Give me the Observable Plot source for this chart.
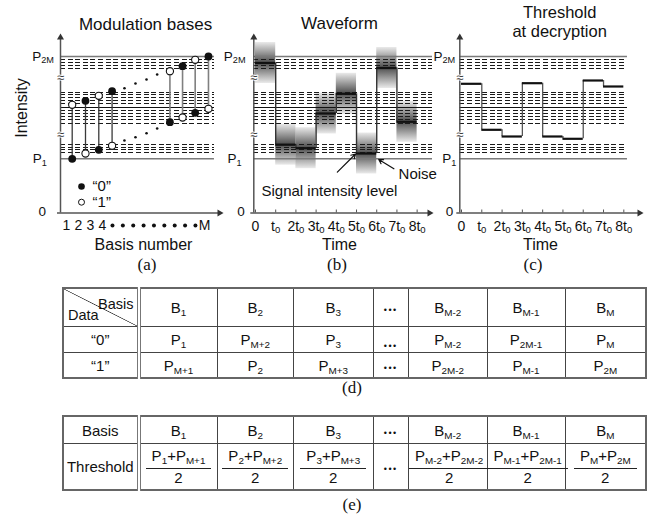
<!DOCTYPE html>
<html>
<head>
<meta charset="utf-8">
<script src="https://cdn.jsdelivr.net/npm/d3@7"></script>
<script src="https://cdn.jsdelivr.net/npm/@observablehq/plot@0.6"></script>
<style>
  body { margin: 0; background: #fff; color: #111; font-family: "Liberation Sans", Arial, Helvetica, sans-serif; }
  #fig { position: relative; width: 658px; height: 523px; overflow: hidden; background: #fff; }
  .panel { position: absolute; top: 0; }
  .panel svg { overflow: visible; }
  .cap { position: absolute; font-family: "Liberation Serif", "Times New Roman", serif; font-size: 17px; transform: translate(-50%, -50%); }
  table.grid { position: absolute; left: 62px; width: 583px; border-collapse: collapse; table-layout: fixed; border: 2px solid #666; font-size: 15px; }
  table.grid td { border: 1px solid #444; text-align: center; padding: 0; white-space: nowrap; }
  table.grid td.lead { border-right: 4px double #777; }
  sub { font-size: 0.66em; vertical-align: -0.3em; line-height: 0; }
  .dots { font-size: 9px; letter-spacing: 1.5px; }
  td.low { vertical-align: bottom; padding-bottom: 2px; }
  td.diag { position: relative; background: linear-gradient(to top right, transparent calc(50% - 0.7px), #333 50%, transparent calc(50% + 0.7px)); }
  td.diag .tr { position: absolute; right: 3px; top: 7px; font-size: 14.5px; }
  td.diag .bl { position: absolute; left: 4px; bottom: 3px; font-size: 14.5px; }
  .frac { display: inline-flex; flex-direction: column; vertical-align: middle; margin-top: -1px; }
  .frac .num { padding: 0 6px 2px; border-bottom: 1px solid #222; line-height: 20px; }
  .frac .den { line-height: 18px; }
</style>
</head>
<body>
<svg width="0" height="0" style="position:absolute">
  <defs>
    <linearGradient id="noise" x1="0" y1="0" x2="0" y2="1">
      <stop offset="0" stop-color="#2e2e2e" stop-opacity="0.1"/>
      <stop offset="0.5" stop-color="#2e2e2e" stop-opacity="0.85"/>
      <stop offset="1" stop-color="#2e2e2e" stop-opacity="0.1"/>
    </linearGradient>
  </defs>
</svg>
<div id="fig">
  <div class="panel" id="pa" style="left:0px"></div>
  <div class="panel" id="pb" style="left:218px"></div>
  <div class="panel" id="pc" style="left:430px"></div>
  <div class="cap" style="left:147px;top:265px">(a)</div>
  <div class="cap" style="left:337px;top:265px">(b)</div>
  <div class="cap" style="left:533px;top:265px">(c)</div>
  <table class="grid" id="tblD" style="top:287px"></table>
  <div class="cap" style="left:352px;top:388px">(d)</div>
  <table class="grid" id="tblE" style="top:415px"></table>
  <div class="cap" style="left:352px;top:505px">(e)</div>
</div>
<script>
// ---- Intensity levels on the broken intensity axis (axis units, 0 at origin) ----
const levelP1 = 54.2;
const levelP2M = 156.5;
const midLevel = 105.8;
const dashedLevels = [153.2, 150.5, 147.2, 144.2,
                      120.8, 118.2, 115.2, 112.2, 109.2,
                      102.5, 99.5, 96.2, 93.2, 90.0,
                      68.3, 65.8, 63.5, 60.8];
const breakLevels = [134.8, 78.5];

// ---- (a) Modulation bases ----
const bases = ["1", "2", "3", "4", "M-3", "M-2", "M-1", "M"];
const basisPos = [1, 2, 3, 4, 8.35, 9.3, 10.25, 11.25];
const dataZero = [54.2, 112.2, 63.2, 121.8, 90.8, 146.8, 100.2, 156.5]; // bit "0"
const dataOne  = [108.2, 59.5, 117.2, 67.2, 141.8, 95.5, 153.2, 104.2]; // bit "1"
const trendPos = [4.93, 5.76, 6.59, 7.39];
const trendUpper = [124.8, 129.5, 133.5, 138.5];
const trendLower = [72.5, 75.8, 79.8, 84.5];
const basisTickLabels = ["1", "2", "3", "4", "M"];
const basisTickPos = [0.57, 1.47, 2.37, 3.28, 10.95];
const basisEllipsisPos = [4.03, 4.81, 5.59, 6.37, 7.15, 7.93, 8.71, 9.49, 10.27];
const legendBits = ["\u201C0\u201D", "\u201C1\u201D"];
const legendLevels = [26.5, 10.8];

// ---- (b) Waveform and (c) threshold, one value per time slot ----
const slots = [0, 1, 2, 3, 4, 5, 6, 7];
const waveLevel = [150.0, 68.3, 64.8, 99.5, 119.2, 59.5, 145.0, 91.2];
const noiseHalfWidth = 20.5;
const thresholdLevel = [129.2, 83.2, 76.5, 129.8, 76.5, 74.2, 132.5, 126.5];
const timeTicks = [0, 1, 2, 3, 4, 5, 6, 7, 8];
const timeLabels = ["0", "t_0", "2t_0", "3t_0", "4t_0", "5t_0", "6t_0", "7t_0", "8t_0"];

// ---- (d), (e) tables ----
const basisHeaders = ["B_1", "B_2", "B_3", "…", "B_M-2", "B_M-1", "B_M"];
const rowZero = ["P_1", "P_M+2", "P_3", "…", "P_M-2", "P_2M-1", "P_M"];
const rowOne = ["P_M+1", "P_2", "P_M+3", "…", "P_2M-2", "P_M-1", "P_2M"];
const thresholdTerms = [["P_1", "P_M+1"], ["P_2", "P_M+2"], ["P_3", "P_M+3"], null,
                        ["P_M-2", "P_2M-2"], ["P_M-1", "P_2M-1"], ["P_M", "P_2M"]];

const FONT = "'Liberation Sans', Arial, Helvetica, sans-serif";
const YTOP = 179.5;
const style = {fontFamily: FONT, fontSize: "14px", background: "transparent", overflow: "visible", color: "#111"};

function levelGrid(x1, x2) {
  return [
    Plot.ruleY(dashedLevels, {x1, x2, stroke: "#1a1a1a", strokeWidth: 1, strokeDasharray: "5,2.6", shapeRendering: "crispEdges"}),
    Plot.ruleY([midLevel], {x1, x2, stroke: "#111", strokeWidth: 1, shapeRendering: "crispEdges"}),
    Plot.ruleY([levelP1, levelP2M], {x1, x2, stroke: "#7a7a7a", strokeWidth: 1.6})
  ];
}

function frame(x0, x1, zeroDx) {
  return [
    Plot.ruleX([x0], {y1: 0, y2: YTOP - 4, stroke: "#555", strokeWidth: 1.5}),
    Plot.ruleY([0], {x1: x0, x2: x1, stroke: "#555", strokeWidth: 1.5, dx: -3}),
    Plot.dot([x0], {x: d => d, y: YTOP, symbol: "triangle", r: 2.6, fill: "#333", stroke: "none", dy: 4}),
    Plot.dot([x1], {x: d => d, y: 0, symbol: "triangle", r: 2.6, fill: "#333", stroke: "none", rotate: 90, dx: -4}),
    Plot.text(breakLevels, {x: x0, y: d => d, text: () => "\u2248", fontSize: 13, fill: "#333", stroke: "white", strokeWidth: 2}),
    Plot.text([{t: "P_2M", v: levelP2M}, {t: "P_1", v: levelP1}],
      {x: x0, y: "v", text: "t", textAnchor: "start", fontSize: 13.5}),
    Plot.text(["0"], {x: x0, y: 0, text: d => d, dx: zeroDx, dy: -1.5, fontSize: 13.5})
  ];
}

// shift the P-labels left of the intensity axis
function placeLabels(svg, offsets) {
  [...svg.querySelectorAll("text")]
    .filter(t => t.textContent === "P_2M" || t.textContent === "P_1")
    .forEach(t => {
      const off = t.textContent === "P_2M" ? offsets[0] : offsets[1];
      t.setAttribute("x", String(+t.getAttribute("x") + off));
    });
}

// "X_Y" text becomes X with subscript Y
function subscripts(svg) {
  const ns = "http://www.w3.org/2000/svg";
  svg.querySelectorAll("text").forEach(t => {
    if (t.children.length) return;
    const s = t.textContent;
    const k = s.indexOf("_");
    if (k < 0) return;
    t.textContent = "";
    const a = document.createElementNS(ns, "tspan");
    a.textContent = s.slice(0, k);
    const b = document.createElementNS(ns, "tspan");
    b.textContent = s.slice(k + 1);
    b.setAttribute("style", "font-size:68%");
    b.setAttribute("dy", "2.5");
    t.append(a, b);
  });
}

function timeAxis() {
  return [
    Plot.ruleX(timeTicks, {x: d => d, y1: 0, y2: 3, stroke: "#555", strokeWidth: 1}),
    Plot.text(timeTicks, {x: d => d, y: 0, text: (d, i) => timeLabels[i], dy: 13.5, fontSize: 14})
  ];
}

const title = (s, dx, dy, size, extra = {}) =>
  Plot.text([s], {frameAnchor: "top", lineAnchor: "middle", text: d => d, dx, dy, fontSize: size, ...extra});
const axisTitle = (s, dx) =>
  Plot.text([s], {frameAnchor: "bottom", lineAnchor: "middle", text: d => d, dx, dy: 31.5, fontSize: 16});

// ---------- (a) ----------
const xA = [0.12, 12.38];
const idx = bases.map((_, i) => i);
const panelA = Plot.plot({
  width: 225, height: 260, marginLeft: 60, marginRight: 2, marginTop: 33, marginBottom: 47.5,
  x: {domain: xA, axis: null}, y: {domain: [0, YTOP], axis: null}, style,
  marks: [
    ...levelGrid(xA[0], 11.7),
    Plot.ruleX(idx.filter(i => i < 4), {x: i => basisPos[i], y1: i => dataZero[i], y2: i => dataOne[i], stroke: "#3a3a3a", strokeWidth: 1.3}),
    Plot.ruleX(idx.filter(i => i >= 4), {x: i => basisPos[i], y1: i => dataZero[i], y2: i => dataOne[i], stroke: "#808080", strokeWidth: 1.6}),
    Plot.dot(trendPos, {x: d => d, y: (d, i) => trendUpper[i], r: 1.3, fill: "#111", stroke: "none"}),
    Plot.dot(trendPos, {x: d => d, y: (d, i) => trendLower[i], r: 1.3, fill: "#111", stroke: "none"}),
    Plot.dot(idx, {x: i => basisPos[i], y: i => dataOne[i], r: 3.6, fill: "white", stroke: "#111", strokeWidth: 1.1}),
    Plot.dot(idx, {x: i => basisPos[i], y: i => dataZero[i], r: 3.9, fill: "#111", stroke: "none"}),
    // legend
    Plot.dot([0], {x: 1.7, y: legendLevels[0], r: 3.3, fill: "#111", stroke: "none"}),
    Plot.dot([1], {x: 1.7, y: legendLevels[1], r: 3, fill: "white", stroke: "#111", strokeWidth: 1}),
    Plot.text(legendBits, {x: 2.53, y: (d, i) => legendLevels[i], text: d => d, textAnchor: "start", fontSize: 15}),
    // basis axis labels
    Plot.text(basisTickLabels, {x: (d, i) => basisTickPos[i], y: 0, text: d => d, dy: 12.5, fontSize: 14}),
    Plot.dot(basisEllipsisPos, {x: d => d, y: 0, dy: 12.5, r: 2, fill: "#111", stroke: "none"}),
    ...frame(xA[0], xA[1], -18.3),
    title("Modulation bases", 3.5, -9.2, 17),
    axisTitle("Basis number", 1.5),
    // vertical axis title, left of the P labels
    Plot.text(["Intensity"], {x: -2.77, y: 105, text: d => d, rotate: -90, textAnchor: "middle", lineAnchor: "middle", fontSize: 16})
  ]
});
placeLabels(panelA, [-28.3, -27.7]);
subscripts(panelA);
document.getElementById("pa").append(panelA);

// ---------- (b) ----------
const xB = [-0.084, 8.81];
const panelB = Plot.plot({
  width: 216, height: 260, marginLeft: 35.3, marginRight: 1, marginTop: 33, marginBottom: 47.5,
  x: {domain: xB, axis: null}, y: {domain: [0, YTOP], axis: null}, style,
  marks: [
    Plot.rect(slots, {x1: i => i, x2: i => i + 1, y1: i => waveLevel[i] - noiseHalfWidth, y2: i => waveLevel[i] + noiseHalfWidth, fill: "url(#noise)"}),
    ...levelGrid(xB[0], 8.76),
    Plot.ruleX(slots.slice(1), {x: i => i, y1: i => waveLevel[i - 1], y2: i => waveLevel[i], stroke: "#333", strokeWidth: 1.4}),
    Plot.ruleY(slots, {x1: i => i, x2: i => i + 1, y: i => waveLevel[i], stroke: "#111", strokeWidth: 2.2}),
    Plot.arrow([{x1: 4.05, y1: 40.8, x2: 4.95, y2: 59.0}], {x1: "x1", y1: "y1", x2: "x2", y2: "y2", stroke: "#111", strokeWidth: 1.2, headLength: 6}),
    Plot.arrow([{x1: 6.85, y1: 44.2, x2: 6.1, y2: 53.5}], {x1: "x1", y1: "y1", x2: "x2", y2: "y2", stroke: "#111", strokeWidth: 1.2, headLength: 6}),
    Plot.text(["Noise"], {x: 7.08, y: 39.2, text: d => d, textAnchor: "start", fontSize: 15}),
    Plot.text(["Signal intensity level"], {x: 3.66, y: 21.8, text: d => d, fontSize: 15}),
    ...timeAxis(),
    ...frame(xB[0], xB[1], -12.8),
    title("Waveform", -4.2, -9.8, 17),
    axisTitle("Time", -4.2)
  ]
});
placeLabels(panelB, [-30, -26.3]);
subscripts(panelB);
document.getElementById("pb").append(panelB);

// ---------- (c) ----------
const xC = [-0.084, 8.97];
const panelC = Plot.plot({
  width: 228, height: 260, marginLeft: 29.3, marginRight: 15, marginTop: 33, marginBottom: 47.5,
  x: {domain: xC, axis: null}, y: {domain: [0, YTOP], axis: null}, style,
  marks: [
    ...levelGrid(xC[0], 8.18),
    Plot.ruleX(slots.slice(1), {x: i => i, y1: i => thresholdLevel[i - 1], y2: i => thresholdLevel[i], stroke: "#555", strokeWidth: 1.3}),
    Plot.ruleY(slots, {x1: i => i, x2: i => i + 1, y: i => thresholdLevel[i], stroke: "#111", strokeWidth: 2.2}),
    ...timeAxis(),
    ...frame(xC[0], xC[1], -10.3),
    title("Threshold\nat decryption", 8, -12.4, 16.5, {lineHeight: 1.15}),
    axisTitle("Time", -11.2)
  ]
});
placeLabels(panelC, [-26.3, -17.6]);
subscripts(panelC);
document.getElementById("pc").append(panelC);

// ---------- tables ----------
const colWidths = [75.5, 78.5, 76.5, 79.5, 35.5, 78.5, 78, 81];
function rich(s) {
  if (s === "…") return '<span class="dots">•••</span>';
  const k = s.indexOf("_");
  return k < 0 ? s : `${s.slice(0, k)}<sub>${s.slice(k + 1)}</sub>`;
}
const colgroup = "<colgroup>" + colWidths.map(w => `<col style="width:${w}px">`).join("") + "</colgroup>";
const cell = (c, lowDots) => `<td${c === "…" && lowDots ? ' class="low"' : ""}>${rich(c)}</td>`;
const row = (h, lead, cells, lowDots = false) =>
  `<tr style="height:${h}px"><td class="lead">${lead}</td>${cells.map(c => cell(c, lowDots)).join("")}</tr>`;

document.getElementById("tblD").innerHTML = colgroup +
  `<tr style="height:38.3px"><td class="lead diag"><span class="tr">Basis</span><span class="bl">Data</span></td>${basisHeaders.map(c => cell(c)).join("")}</tr>` +
  row(26.7, "\u201C0\u201D", rowZero, true) +
  row(25, "\u201C1\u201D", rowOne);

const fraction = p => p === null ? rich("…")
  : `<span class="frac"><span class="num">${rich(p[0])}+${rich(p[1])}</span><span class="den">2</span></span>`;
document.getElementById("tblE").innerHTML = colgroup +
  row(27.7, "Basis", basisHeaders) +
  `<tr style="height:46.6px"><td class="lead">Threshold</td>${thresholdTerms.map(p => `<td>${fraction(p)}</td>`).join("")}</tr>`;
</script>
</body>
</html>
